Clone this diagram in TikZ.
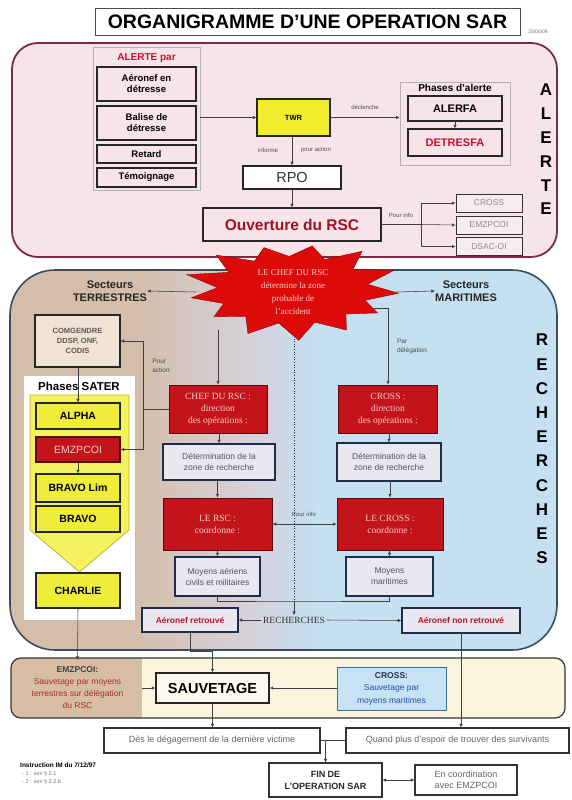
\documentclass[tikz,border=0pt]{standalone}
\usepackage{fontspec}
\setmainfont{Liberation Serif}
\setsansfont{Liberation Sans}
\usetikzlibrary{arrows.meta,calc}
\definecolor{alertfill}{HTML}{F7E4E9}
\definecolor{alertdraw}{HTML}{7D2942}
\definecolor{rtan}{HTML}{D4BDA9}
\definecolor{rlav}{HTML}{D6D1DB}
\definecolor{rblue}{HTML}{C4E0F1}
\definecolor{recdraw}{HTML}{3D4C5E}
\definecolor{twryellow}{HTML}{F2EE2E}
\definecolor{ybox}{HTML}{F0EC3A}
\definecolor{chevyellow}{HTML}{F5F260}
\definecolor{chevdraw}{HTML}{BDB530}
\definecolor{rfill}{HTML}{C3131B}
\definecolor{rdraw}{HTML}{5A0A0A}
\definecolor{rtext}{HTML}{F6CFC8}
\definecolor{detfill}{HTML}{E9E7EF}
\definecolor{navy}{HTML}{1E2E4A}
\definecolor{dettext}{HTML}{505560}
\definecolor{aerred}{HTML}{C0142A}
\definecolor{comgfill}{HTML}{F0E2D4}
\definecolor{savfill}{HTML}{FBF5DF}
\definecolor{resltan}{HTML}{D8BDA5}
\definecolor{reslred}{HTML}{A03030}
\definecolor{crossfill}{HTML}{C8E2F5}
\definecolor{crossdraw}{HTML}{3A6FA0}
\definecolor{crosstext}{HTML}{2050A0}
\definecolor{ouvred}{HTML}{A01020}
\definecolor{starred}{HTML}{DD0A0A}
\pgfdeclarehorizontalshading{recsh}{100bp}{color(0bp)=(rtan); color(25bp)=(rtan); color(36bp)=(rtan); color(47bp)=(rlav); color(53bp)=(rblue); color(100bp)=(rblue)}
\tikzset{
 titlebox/.style={draw=black!70, line width=0.8pt, fill=white, font=\sffamily\bfseries\fontsize{19.5}{22}\selectfont, inner sep=0pt},
 alertpanel/.style={fill=alertfill, draw=alertdraw, line width=1.8pt, rounded corners=26pt},
 grp/.style={draw=black!30, line width=0.6pt, fill=alertfill, inner sep=0pt},
 abox/.style={draw=black!85, line width=1.2pt, fill=alertfill, font=\sffamily\bfseries\fontsize{9.5}{11}\selectfont, align=center, inner sep=1pt},
 twrbox/.style={abox, fill=twryellow, font=\sffamily\bfseries\fontsize{7.5}{9}\selectfont},
 hdr/.style={font=\sffamily\bfseries\fontsize{10}{11}\selectfont, inner sep=0pt},
 lbl/.style={font=\sffamily\fontsize{6}{7}\selectfont, text=black!70, align=center, inner sep=0pt},
 lbll/.style={lbl, align=left},
 gbox/.style={draw=black!80, line width=1pt, fill=alertfill!70!white, text=black!45, font=\sffamily\fontsize{8.5}{10}\selectfont, inner sep=0pt},
 arr/.style={-{Latex[length=3.5pt,width=3.5pt]}, line width=0.55pt, draw=black!75},
 arrb/.style={{Latex[length=3.5pt,width=3.5pt]}-{Latex[length=3.5pt,width=3.5pt]}, line width=0.55pt, draw=black!75},
 ln/.style={line width=0.55pt, draw=black!75},
 recpanel/.style={shading=recsh, draw=recdraw, line width=1.6pt, rounded corners=45pt},
 sect/.style={font=\sffamily\bfseries\fontsize{11}{13}\selectfont, text=black!85, align=center, inner sep=0pt},
 comg/.style={draw=black!85, line width=1.2pt, fill=comgfill, font=\sffamily\bfseries\fontsize{7.5}{10}\selectfont, text=black!65, align=center, inner sep=0pt},
 satergrp/.style={fill=white, draw=black!25, line width=0.6pt},
 chevron/.style={fill=chevyellow, draw=chevdraw, line width=0.8pt},
 ybx/.style={draw=black!85, line width=1.2pt, fill=ybox, font=\sffamily\bfseries\fontsize{10.5}{12}\selectfont, inner sep=0pt},
 rbox/.style={draw=rdraw, line width=1pt, fill=rfill, text=rtext, font=\rmfamily\fontsize{9.5}{12}\selectfont, align=center, inner sep=0pt},
 detbox/.style={draw=navy, line width=1.3pt, fill=detfill, text=dettext, font=\sffamily\fontsize{8.5}{11}\selectfont, align=center, inner sep=0pt},
 aerbox/.style={detbox, text=aerred, font=\sffamily\bfseries\fontsize{8.5}{10}\selectfont},
 vlet/.style={font=\sffamily\bfseries\fontsize{17}{17}\selectfont, inner sep=0pt},
 savpanel/.style={draw=black!80, line width=1.2pt, rounded corners=10pt},
 wbox/.style={draw=black!80, line width=1.1pt, fill=white, text=black!60, font=\sffamily\fontsize{9}{11}\selectfont, align=center, inner sep=0pt},
}
\begin{document}
\begin{tikzpicture}[x=1pt,y=-1pt]
\useasboundingbox (0,0) rectangle (571,800);
\fill[white] (0,0) rectangle (571,800);

% ---------- title
\node[titlebox, minimum width=425, minimum height=27] (title) at (307.5,21.5) {ORGANIGRAMME D’UNE OPERATION SAR};
\node[lbl, text=black!55, font=\sffamily\fontsize{5}{6}\selectfont] (date) at (538,32) {25/06/09};

% ---------- ALERTE panel
\draw[alertpanel] (12,43) rectangle (557,257);
\node[grp, minimum width=107, minimum height=143] (alertgrp) at (146.5,118.5) {};
\node[hdr, text=aerred] (alertepar) at (146.5,58) {ALERTE par};
\node[abox, minimum width=99, minimum height=34] (aer) at (146.5,84) {Aéronef en\\détresse};
\node[abox, minimum width=99, minimum height=34] (bal) at (146.5,123) {Balise de\\détresse};
\node[abox, minimum width=99, minimum height=18] (ret) at (146.5,154) {Retard};
\node[abox, minimum width=99, minimum height=19] (tem) at (146.5,177.5) {Témoignage};

\node[twrbox, minimum width=73, minimum height=37] (twr) at (293.5,117.5) {TWR};
\draw[arr] (alertgrp.east |- twr) -- (twr.west);

\node[grp, minimum width=110, minimum height=83] (phgrp) at (455,123.5) {};
\node[hdr] (phtitle) at (455,88) {Phases d’alerte};
\node[abox, minimum width=94, minimum height=25, font=\sffamily\bfseries\fontsize{11}{12}\selectfont] (alerfa) at (455,108.5) {ALERFA};
\node[abox, minimum width=94, minimum height=27, text=aerred, font=\sffamily\bfseries\fontsize{11}{12}\selectfont] (detresfa) at (455,142.5) {DETRESFA};
\draw[arr] (alerfa) -- (detresfa);
\draw[arr] (twr.east) -- (phgrp.west |- twr);
\node[lbl] (declenche) at (365,107) {déclenche};

\node[abox, fill=white, minimum width=98, minimum height=23, font=\sffamily\fontsize{14.5}{16}\selectfont, text=black!80] (rpo) at (292,177.5) {RPO};
\draw[arr] (twr.south -| rpo) -- (rpo.north);
\node[lbl] (informe) at (268,150) {informe};
\node[lbl] (pouraction) at (316,150) {pour action};

\node[abox, minimum width=178, minimum height=33, text=ouvred, font=\sffamily\bfseries\fontsize{15.5}{17}\selectfont] (ouv) at (292,224.5) {Ouverture du RSC};
\draw[arr] (rpo) -- (ouv);

\node[gbox, minimum width=66, minimum height=18] (crossa) at (489,203) {CROSS};
\node[gbox, minimum width=66, minimum height=18] (emza) at (489,225) {EMZPCOI};
\node[gbox, minimum width=66, minimum height=18] (dsac) at (489,246.5) {DSAC-OI};
\coordinate (br) at (421,224.5);
\draw[ln] (ouv.east) -- (br);
\draw[arr] (br) |- (crossa.west);
\draw[arr] (br) -- (emza.west);
\draw[arr] (br) |- (dsac.west);
\node[lbl] (pourinfo1) at (401,215) {Pour info};

\foreach \l [count=\k] in {A,L,E,R,T,E} \node[vlet] (al\k) at (546,{90+(\k-1)*23.8}) {\l};

% ---------- RECHERCHES panel
\draw[recpanel] (10,270) rectangle (557,650);
\foreach \l [count=\k] in {R,E,C,H,E,R,C,H,E,S} \node[vlet] (rl\k) at (542,{340+(\k-1)*24.2}) {\l};

\node[sect] (terr) at (110,291) {Secteurs\\TERRESTRES};
\node[sect] (mar) at (466,291) {Secteurs\\MARITIMES};

% left column
\node[comg, minimum width=85, minimum height=52] (comg) at (77.5,341) {COMGENDRE\\DDSP, ONF,\\CODIS};
\draw[satergrp] (23,375) rectangle (135,620);
\node[hdr, font=\sffamily\bfseries\fontsize{11.5}{12}\selectfont] (sater) at (79,386) {Phases SATER};
\draw[chevron] (30,395) -- (129,395) -- (129,530) -- (79.5,572) -- (30,530) -- cycle;
\node[ybx, minimum width=84, minimum height=26] (alpha) at (78,416) {ALPHA};
\node[ybx, minimum width=84, minimum height=25, fill=rfill, draw=rdraw, text=rtext, font=\sffamily\fontsize{10.5}{12}\selectfont] (emz) at (78,449.5) {EMZPCOI};
\node[ybx, minimum width=84, minimum height=28] (bravolim) at (78,488) {BRAVO Lim};
\node[ybx, minimum width=84, minimum height=26] (bravo) at (78,519) {BRAVO};
\node[ybx, minimum width=84, minimum height=35] (charlie) at (78,590.5) {CHARLIE};
\draw[arr] (comg.south -| alpha) -- (alpha.north);
\draw[arr] (emz) -- (bravolim);

% centre columns
\node[rbox, minimum width=98, minimum height=48] (chef) at (218,409) {CHEF DU RSC :\\direction\\des opérations :};
\node[detbox, minimum width=112, minimum height=36] (detl) at (219,462) {Détermination de la\\zone de recherche};
\node[rbox, minimum width=109, minimum height=52] (rsc) at (217.5,524) {LE RSC :\\coordonne :};
\node[detbox, minimum width=85, minimum height=39] (moyl) at (217.5,576.5) {Moyens aériens\\civils et militaires};
\node[rbox, minimum width=99, minimum height=48] (crossd) at (388,409) {CROSS :\\direction\\des opérations :};
\node[detbox, minimum width=104, minimum height=38] (detr) at (389,462) {Détermination de la\\zone de recherche};
\node[rbox, minimum width=106, minimum height=52] (crossc) at (390,524) {LE CROSS :\\coordonne :};
\node[detbox, minimum width=87, minimum height=39] (moyr) at (389.5,576.5) {Moyens\\maritimes};

\draw[arr] (chef.south -| detl) -- (detl.north);
\draw[arr] (detl.south -| rsc) -- (rsc.north);
\draw[arr] (rsc) -- (moyl);
\draw[arr] (crossd.south -| detr) -- (detr.north);
\draw[arr] (detr.south -| crossc) -- (crossc.north);
\draw[arr] (crossc.south -| moyr) -- (moyr.north);
\draw[arrb] (rsc.east) -- (crossc.west);
\node[lbl] (pourinfo2) at (304,514) {Pour info};

\coordinate (pa) at (143,409);
\draw[ln] (chef.west) -- (pa);
\draw[arr] (pa) |- (comg.east);
\draw[arr] (pa) |- (emz.east);
\node[lbll, font=\sffamily\fontsize{6.5}{9}\selectfont] (pouract) at (161,366) {Pour\\action};

% bottom of recherches
\node[font=\rmfamily\fontsize{9.5}{11}\selectfont, text=black!80, inner sep=1.5pt] (rech) at (294,620) {RECHERCHES};
\coordinate (mj) at (294,601);
\draw[ln] (moyl.south) |- (mj) -| (moyr.south);
\draw[arr] (mj) -- (rech.north);
\node[aerbox, minimum width=96, minimum height=24] (aerr) at (190,620) {Aéronef retrouvé};
\node[aerbox, minimum width=118, minimum height=25] (aernr) at (461,620.5) {Aéronef non retrouvé};
\draw[arr] (rech.west) -- (aerr.east);
\draw[arr] (rech.east) -- (aernr.west);

% ---------- star
\fill[starred, draw=red!60!black, line width=0.4pt, shift={(293,290)}]
  plot[samples=26, domain=0:25, variable=\t] ({\t*360/26+4}:{108*(0.7+(0.28+0.06*sin(\t*137))*(1+cos(180*\t))/2)} and {48*(0.7+(0.28+0.07*sin(\t*137))*(1+cos(180*\t))/2)}) -- cycle;
\node[font=\rmfamily\fontsize{9}{13}\selectfont, text=rtext, align=center, inner sep=0pt] (star) at (293,292) {LE CHEF DU RSC\\détermine la zone\\probable de\\l’accident};
\coordinate (starw) at (196,292);
\coordinate (stare) at (396,292);
\coordinate (stars1) at (218,330);
\coordinate (stars2) at (374,308);
\coordinate (stars3) at (294,336);
\draw[arr] (starw) -- (terr.east);
\draw[arr] (stare) -- (mar.west);
\draw[arr] (stars1) -- (chef.north);
\draw[arr] (stars2) -| (crossd.north);
\node[lbll, font=\sffamily\fontsize{6.5}{9}\selectfont] (pardel) at (412,346) {Par\\délégation};
\draw[navy, line width=0.6pt, dotted] (stars3) -- (mj);

% ---------- SAUVETAGE panel
\fill[savfill, rounded corners=10pt] (11,658) rectangle (565,718);
\begin{scope}
\clip[rounded corners=10pt] (11,658) rectangle (565,718);
\fill[resltan] (11,658) rectangle (142,718);
\end{scope}
\draw[savpanel] (11,658) rectangle (565,718);
\node[align=center, inner sep=0pt, minimum width=129, minimum height=56, font=\sffamily\fontsize{8.5}{12}\selectfont, text=reslred] (resl) at (77.5,688) {{\bfseries\color{black!75}EMZPCOI:}\\Sauvetage par moyens\\terrestres sur délégation\\du RSC};
\node[draw=black!85, line width=1.4pt, fill=savfill!50!white, minimum width=113, minimum height=30, inner sep=0pt, font=\sffamily\bfseries\fontsize{14.5}{16}\selectfont] (sauv) at (212.5,688) {SAUVETAGE};
\node[draw=crossdraw, line width=1pt, fill=crossfill, minimum width=109, minimum height=43, inner sep=0pt, align=center, font=\sffamily\fontsize{8.5}{12.5}\selectfont, text=crosstext] (crossr) at (391.5,688.5) {{\bfseries\color{navy}CROSS:}\\Sauvetage par\\moyens maritimes};
\draw[arr] (resl.east |- sauv) -- (sauv.west);
\draw[arr] (crossr.west |- sauv) -- (sauv.east);
\draw[arr] (charlie.south) -- (resl.north);
\draw[arr] (aerr.south) -- ++(0,19) -| (sauv.north);

% ---------- end
\node[wbox, minimum width=216, minimum height=25] (des) at (212,740.5) {Dès le dégagement de la dernière victime};
\node[wbox, minimum width=223, minimum height=25] (quand) at (457.5,740.5) {Quand plus d’espoir de trouver des survivants};
\draw[arr] (sauv.south) -- (sauv.south |- des.north);
\draw[arr] (aernr.south) -- (aernr.south |- quand.north);
\node[wbox, minimum width=113, minimum height=34, text=black!85, font=\sffamily\bfseries\fontsize{9}{12}\selectfont] (fin) at (325.5,780) {FIN DE\\L’OPERATION SAR};
\node[wbox, minimum width=102, minimum height=30] (enc) at (466,780) {En coordination\\avec EMZPCOI};
\coordinate (fj) at (325.5,740.5);
\draw[ln] (des.east) -- (quand.west);
\draw[arr] (fj) -- (fin.north);
\draw[arrb] (fin.east) -- (enc.west);

\node[anchor=west, inner sep=0pt, font=\sffamily\bfseries\fontsize{6.5}{8}\selectfont] (instr) at (20,765) {Instruction IM du 7/12/97};
\node[anchor=north west, inner sep=0pt, align=left, text=black!55, font=\sffamily\fontsize{5.5}{8}\selectfont] (instr2) at (22,771) {- 1 : voir § 2.1\\- 2 : voir § 2.2.b};
\end{tikzpicture}
\end{document}
